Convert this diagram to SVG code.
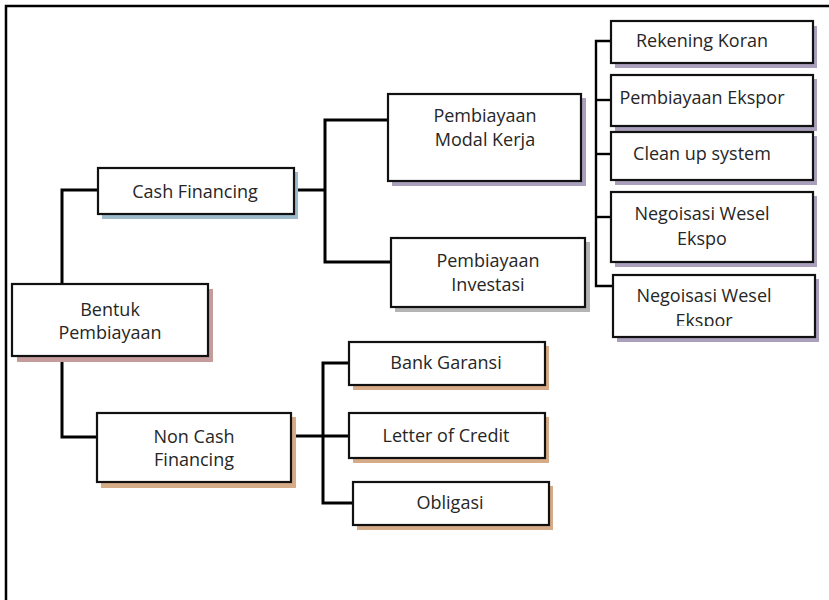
<svg xmlns="http://www.w3.org/2000/svg" width="829" height="600" viewBox="0 0 829 600">
  <style>
    .box { fill: #ffffff; stroke: #111111; stroke-width: 2.2; }
    .lbl { font-family: "Open Sans", "Noto Sans", sans-serif; font-size: 18px; fill: #262626; text-anchor: middle; }
    .wire { fill: none; stroke: #000000; stroke-width: 3; stroke-linecap: butt; }
    .thin { stroke-width: 2.4; }
    .sh-pink { fill: #c49c9c; }
    .sh-blue { fill: #9cbccc; }
    .sh-violet { fill: #aaa0bc; }
    .sh-grey { fill: #b4b4b4; }
    .sh-tan { fill: #d6ab88; }
  </style>
  <defs>
    <clipPath id="clipLast">
      <rect x="614" y="276" width="200" height="50"/>
    </clipPath>
  </defs>

  <rect width="829" height="600" fill="#ffffff"/>
  <!-- page frame -->
  <path d="M6 600 V6 H829" fill="none" stroke="#000" stroke-width="2.5"/>

  <g id="connectors">
    <!-- root to the two financing branches -->
    <path class="wire" d="M62 284 V190 H98"/>
    <path class="wire" d="M62 356 V437 H97"/>
    <!-- cash financing branch -->
    <path class="wire" d="M294 190 H325"/>
    <path class="wire" d="M388 120 H325 V262 H391"/>
    <!-- list of working-capital products -->
    <path class="wire thin" d="M611 41 H596 V286 H613"/>
    <path class="wire thin" d="M596 100 H611"/>
    <path class="wire thin" d="M596 154 H611"/>
    <path class="wire thin" d="M596 217 H611"/>
    <!-- non cash branch -->
    <path class="wire" d="M291 436 H349"/>
    <path class="wire" d="M349 363 H323 V503 H353"/>
  </g>

  <g id="bentuk-pembiayaan">
    <rect class="sh-pink" x="17" y="289" width="196" height="73"/>
    <rect class="box" x="12" y="284" width="196" height="72"/>
    <text class="lbl" x="110" y="316">Bentuk</text>
    <text class="lbl" x="110" y="339">Pembiayaan</text>
  </g>

  <g id="cash-financing">
    <rect class="sh-blue" x="102" y="172" width="196" height="47"/>
    <rect class="box" x="98" y="168" width="196" height="46"/>
    <text class="lbl" x="195" y="198">Cash Financing</text>
  </g>

  <g id="non-cash-financing">
    <rect class="sh-tan" x="101" y="417" width="195" height="71"/>
    <rect class="box" x="97" y="413" width="194" height="69"/>
    <text class="lbl" x="194" y="443">Non Cash</text>
    <text class="lbl" x="194" y="466">Financing</text>
  </g>

  <g id="modal-kerja">
    <rect class="sh-violet" x="392" y="98" width="194" height="88"/>
    <rect class="box" x="388" y="94" width="193" height="87"/>
    <text class="lbl" x="485" y="122">Pembiayaan</text>
    <text class="lbl" x="485" y="146">Modal Kerja</text>
  </g>

  <g id="investasi">
    <rect class="sh-grey" x="395" y="242" width="195" height="70"/>
    <rect class="box" x="391" y="238" width="194" height="69"/>
    <text class="lbl" x="488" y="267">Pembiayaan</text>
    <text class="lbl" x="488" y="291">Investasi</text>
  </g>

  <g id="rekening-koran">
    <rect class="sh-violet" x="615" y="26" width="202" height="42"/>
    <rect class="box" x="611" y="21" width="202" height="42"/>
    <text class="lbl" x="702" y="47">Rekening Koran</text>
  </g>

  <g id="pembiayaan-ekspor">
    <rect class="sh-violet" x="615" y="79" width="202" height="52"/>
    <rect class="box" x="611" y="75" width="202" height="51"/>
    <text class="lbl" x="702" y="104">Pembiayaan Ekspor</text>
  </g>

  <g id="clean-up-system">
    <rect class="sh-violet" x="615" y="136" width="202" height="49"/>
    <rect class="box" x="611" y="132" width="202" height="48"/>
    <text class="lbl" x="702" y="160">Clean up system</text>
  </g>

  <g id="wesel-ekspo">
    <rect class="sh-violet" x="615" y="196" width="202" height="71"/>
    <rect class="box" x="611" y="192" width="202" height="70"/>
    <text class="lbl" x="702" y="220">Negoisasi Wesel</text>
    <text class="lbl" x="702" y="245">Ekspo</text>
  </g>

  <g id="wesel-ekspor">
    <rect class="sh-violet" x="617" y="279" width="202" height="63"/>
    <rect class="box" x="613" y="275" width="202" height="62"/>
    <g clip-path="url(#clipLast)">
      <text class="lbl" x="704" y="302">Negoisasi Wesel</text>
      <text class="lbl" x="704" y="327">Ekspor</text>
    </g>
  </g>

  <g id="bank-garansi">
    <rect class="sh-tan" x="353" y="346" width="196" height="44"/>
    <rect class="box" x="349" y="342" width="196" height="43"/>
    <text class="lbl" x="446" y="369">Bank Garansi</text>
  </g>

  <g id="letter-of-credit">
    <rect class="sh-tan" x="353" y="417" width="196" height="46"/>
    <rect class="box" x="349" y="413" width="196" height="45"/>
    <text class="lbl" x="446" y="442">Letter of Credit</text>
  </g>

  <g id="obligasi">
    <rect class="sh-tan" x="357" y="486" width="196" height="44"/>
    <rect class="box" x="353" y="482" width="196" height="43"/>
    <text class="lbl" x="450" y="509">Obligasi</text>
  </g>
</svg>
